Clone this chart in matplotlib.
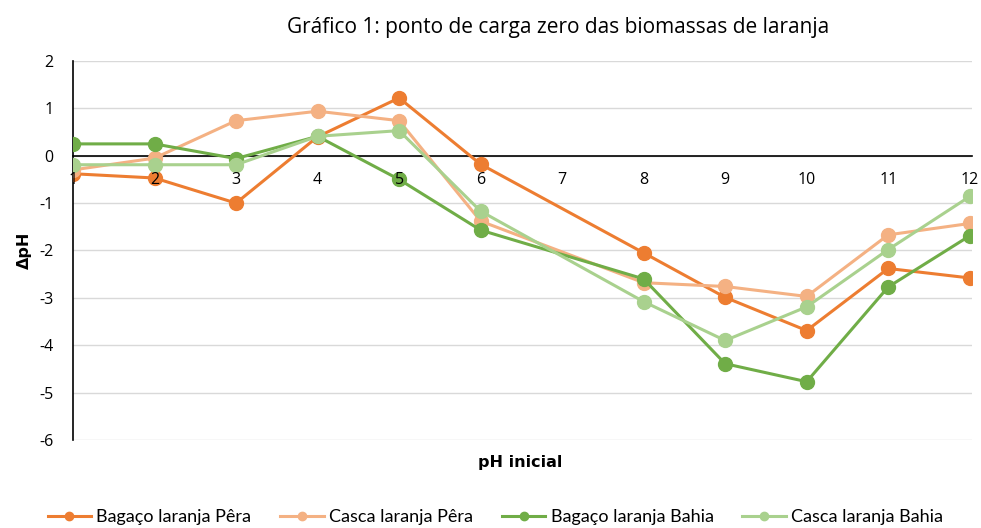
import matplotlib.pyplot as plt

plt.rcParams['font.family'] = ['Open Sans', 'DejaVu Sans']
plt.rcParams['axes.unicode_minus'] = False

ph_inicial = [1, 2, 3, 4, 5, 6, 8, 9, 10, 11, 12]
bagaco_pera = [-0.38, -0.47, -1.0, 0.4, 1.22, -0.18, -2.05, -2.99, -3.69, -2.38, -2.58]
casca_pera = [-0.3, -0.05, 0.74, 0.94, 0.74, -1.38, -2.68, -2.76, -2.97, -1.67, -1.43]
bagaco_bahia = [0.25, 0.25, -0.06, 0.41, -0.5, -1.57, -2.6, -4.39, -4.77, -2.77, -1.69]
casca_bahia = [-0.19, -0.19, -0.19, 0.41, 0.53, -1.17, -3.08, -3.9, -3.19, -1.98, -0.86]

series = [
    ('Bagaço laranja Pêra', bagaco_pera, '#ED7D31'),
    ('Casca laranja Pêra', casca_pera, '#F4B183'),
    ('Bagaço laranja Bahia', bagaco_bahia, '#70AD47'),
    ('Casca laranja Bahia', casca_bahia, '#A9D18E'),
]
xticks = list(range(1, 13))

fig = plt.figure(figsize=(9.81, 5.28), dpi=100)
ax = fig.add_axes([0.0744, 0.1667, 0.9166, 0.7178])

for label, values, color in series:
    ax.plot(ph_inicial, values, color=color, lw=2.2, marker='o', markersize=10,
            label=label, zorder=3)

ax.set_xlim(1, 12.03)
ax.set_ylim(-6, 2)
ax.set_yticks(range(-6, 3))
ax.set_xticks(xticks)
ax.grid(axis='y', color='#d9d9d9', lw=1)
ax.set_axisbelow(True)
ax.xaxis.set_zorder(4)

for s in ['top', 'right']:
    ax.spines[s].set_visible(False)
ax.spines['bottom'].set_position(('data', 0))
ax.spines['bottom'].set_color('black')
ax.spines['bottom'].set_linewidth(1.2)
ax.spines['bottom'].set_zorder(2)
ax.spines['left'].set_color('black')
ax.spines['left'].set_linewidth(1.2)
ax.tick_params(axis='x', length=0, pad=12, labelsize=11.5)
ax.tick_params(axis='y', length=0, pad=14, labelsize=11.5)

ax.set_ylabel('ΔpH', fontsize=11.5, fontweight='bold', labelpad=5, family='DejaVu Sans')
fig.text(0.53, 0.125, 'pH inicial', fontsize=11.5, fontweight='bold', ha='center',
         va='center', family='DejaVu Sans')
fig.text(0.569, 0.947, 'Gráfico 1: ponto de carga zero das biomassas de laranja',
         fontsize=15, ha='center', va='center')

fig.legend(loc='center', bbox_to_anchor=(0.505, 0.02), ncol=4, frameon=False,
           prop={'family': 'Lato', 'size': 13},
           handlelength=2.4, columnspacing=1.6, handletextpad=0.3, markerscale=0.6)

plt.savefig('out.png', dpi=100)
